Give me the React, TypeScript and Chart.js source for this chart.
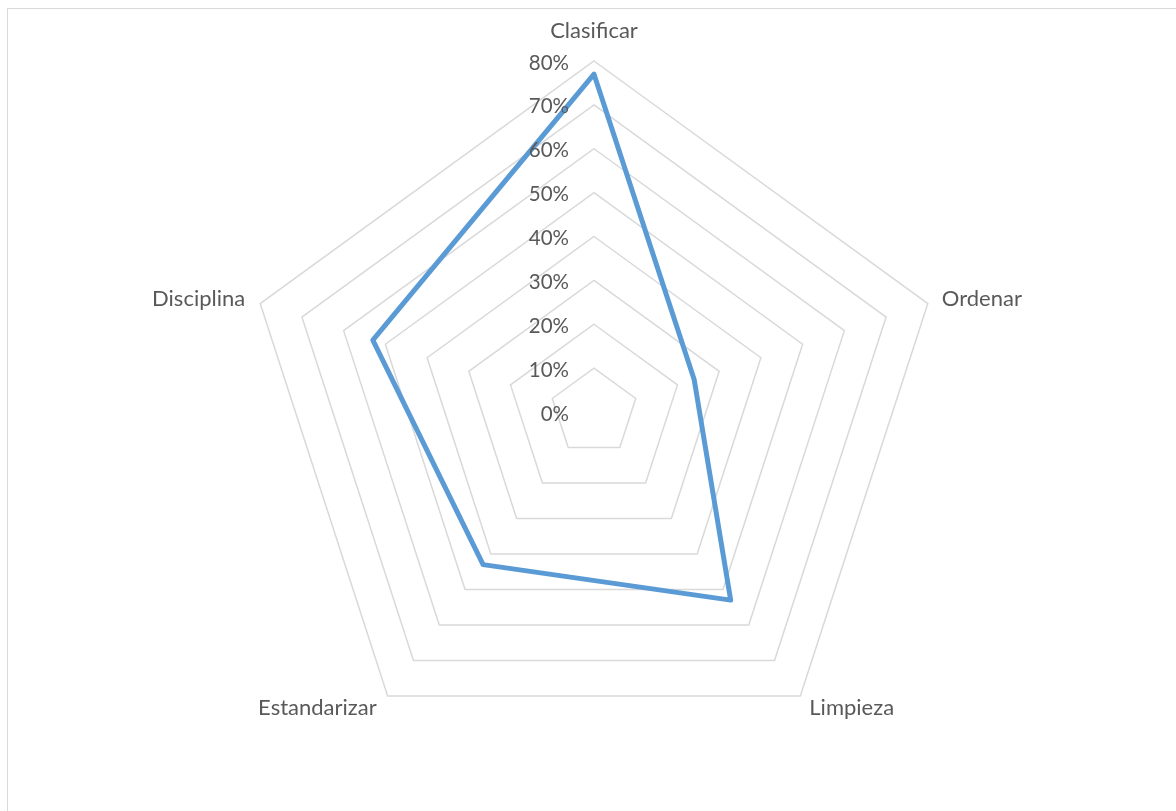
import React, { useEffect, useRef } from "react";
import { Chart, registerables } from "chart.js";

Chart.register(...registerables);

const categories = ["Clasificar", "Ordenar", "Limpieza", "Estandarizar", "Disciplina"];
const seriesValues = [77, 24, 53, 43, 53];
const tickValues = [0, 10, 20, 30, 40, 50, 60, 70, 80];
const tickLabels = ["0%", "10%", "20%", "30%", "40%", "50%", "60%", "70%", "80%"];

const TEXT_COLOR = "#595959";
const TICK_FONT = "20.5px Lato";
const LABEL_FONT = "22px Lato";

const tickLabelPlugin = {
  id: "excelTickLabels",
  afterDatasetsDraw(chart: any) {
    const scale = chart.scales.r;
    const ctx = chart.ctx;
    ctx.save();
    ctx.fillStyle = TEXT_COLOR;
    ctx.font = TICK_FONT;
    ctx.textAlign = "right";
    ctx.textBaseline = "alphabetic";
    tickValues.forEach((v, i) => {
      const d = scale.getDistanceFromCenterForValue(v);
      ctx.fillText(tickLabels[i], scale.xCenter - 25, scale.yCenter - d + 8.5);
    });
    ctx.restore();
  },
};

const pointLabelPlugin = {
  id: "excelPointLabels",
  afterDraw(chart: any) {
    const scale = chart.scales.r;
    const ctx = chart.ctx;
    ctx.save();
    ctx.fillStyle = TEXT_COLOR;
    ctx.font = LABEL_FONT;
    ctx.textBaseline = "alphabetic";
    categories.forEach((label, i) => {
      const p = scale.getPointPosition(i, scale.drawingArea);
      const a = scale.getIndexAngle(i);
      const s = Math.sin(a);
      const c = Math.cos(a);
      let x = p.x;
      let y = p.y;
      if (Math.abs(s) < 0.1) {
        ctx.textAlign = "center";
      } else if (s > 0) {
        ctx.textAlign = "left";
        x += Math.abs(s) > 0.9 ? 14 : 9;
      } else {
        ctx.textAlign = "right";
        x -= Math.abs(s) > 0.9 ? 15 : 11;
      }
      if (c > 0.9) y -= 23;
      else if (c < -0.5) y += 19;
      else y += 2;
      ctx.fillText(label, x, y);
    });
    ctx.restore();
  },
};

export default function App() {
  const canvasRef = useRef<HTMLCanvasElement | null>(null);

  useEffect(() => {
    if (!canvasRef.current) return;
    const chart = new Chart(canvasRef.current, {
      type: "radar",
      data: {
        labels: categories,
        datasets: [
          {
            label: "Serie",
            data: seriesValues,
            borderColor: "#5b9bd5",
            backgroundColor: "rgba(0,0,0,0)",
            borderWidth: 5,
            borderJoinStyle: "round",
            borderCapStyle: "round",
            pointRadius: 0,
            pointHoverRadius: 0,
            fill: false,
            tension: 0,
          },
        ],
      },
      options: {
        animation: false,
        responsive: true,
        maintainAspectRatio: false,
        layout: { padding: { top: 52, bottom: 40, left: 4, right: 0 } },
        plugins: {
          legend: { display: false },
          tooltip: { enabled: false },
          title: { display: false },
        },
        scales: {
          r: {
            min: 0,
            max: 80,
            beginAtZero: true,
            startAngle: 0,
            ticks: { stepSize: 10, display: false },
            grid: { color: "#d9d9d9", lineWidth: 1.5 },
            angleLines: { display: false },
            pointLabels: { display: false },
          },
        },
      },
      plugins: [tickLabelPlugin, pointLabelPlugin],
    });
    return () => chart.destroy();
  }, []);

  return (
    <div
      style={{
        position: "absolute",
        left: 7,
        top: 8,
        width: 1169,
        height: 803,
        borderTop: "1px solid #d9d9d9",
        borderLeft: "1px solid #d9d9d9",
        boxSizing: "border-box",
        overflow: "hidden",
        background: "#ffffff",
      }}
    >
      <div style={{ position: "relative", width: 1168, height: 794 }}>
        <canvas ref={canvasRef} style={{ display: "block" }} />
      </div>
    </div>
  );
}
